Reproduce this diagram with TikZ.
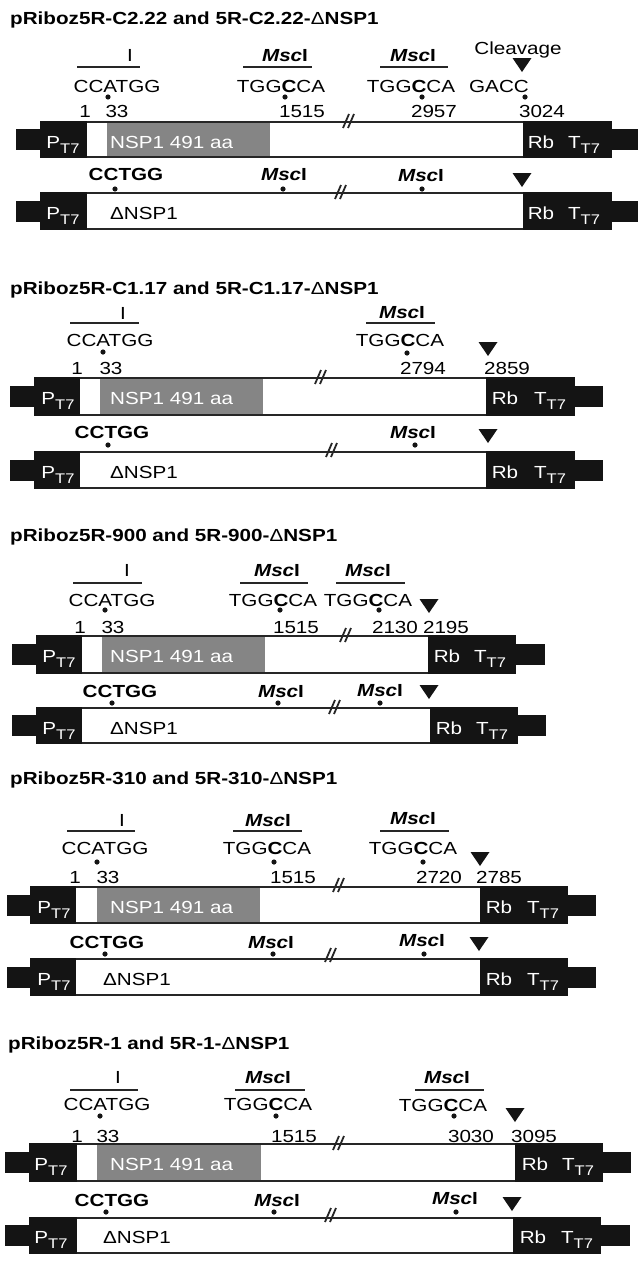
\documentclass[tikz,border=0pt]{standalone}
\usepackage{fontspec}
\setmainfont{Liberation Sans}[FakeStretch=1.18]
\definecolor{lin}{HTML}{262626}
\definecolor{gbox}{HTML}{858585}
\definecolor{blk}{HTML}{141414}
\newcommand\sub[1]{\raisebox{-0.32em}{\fontsize{14}{14}\selectfont #1}}
\newcommand\msc{\textbf{\textit{Msc}I}}
\newcommand\dl{{\mdseries Δ}}
\newcommand\cbox[8]{%
 \fill[blk] (#3,{(#1+#2)/2-10.5}) rectangle (#4,{(#1+#2)/2+10.5});
 \fill[blk] (#4,#1-1.3) rectangle (#5,#2+1.3);
 \fill[blk] (#6,#1-1.3) rectangle (#7,#2+1.3);
 \fill[blk] (#7,{(#1+#2)/2-10.5}) rectangle (#8,{(#1+#2)/2+10.5});
 \draw[bline] (#5,#1) -- (#6,#1);
 \draw[bline] (#5,#2) -- (#6,#2);}
\newcommand\tri[3]{\fill[blk] (#1-9.5,#2) -- (#1+9.5,#2) -- (#1,#3) -- cycle;}
\newcommand\brk[2]{\draw[brkl] (#1-5,#2+7) -- (#1+1,#2-7); \draw[brkl] (#1,#2+7) -- (#1+6,#2-7);}
\newcommand\sdot{\fill[blk]}
\tikzset{
 txt/.style={inner sep=0pt, font=\fontsize{17.5}{18}\selectfont, text height=12.5pt, text depth=0pt},
 ttl/.style={inner sep=0pt, anchor=west, font=\fontsize{17.5}{18}\selectfont\bfseries, text height=12.5pt, text depth=0pt},
 btxt/.style={txt, font=\fontsize{17.5}{18}\selectfont\bfseries},
 wtxt/.style={txt, text=white},
 ovl/.style={line width=2.6pt, draw=lin},
 bline/.style={line width=2.6pt, draw=lin},
 brkl/.style={line width=1.8pt, draw=lin},
}
\begin{document}
\begin{tikzpicture}[x=1pt,y=-1pt]
\useasboundingbox (0,0) rectangle (638,1282);
% ================= Panel 1
\node[ttl] (t1) at (10,18) {pRiboz5R-C2.22 and 5R-C2.22-\dl NSP1};
\node[txt] (a1I) at (130,55) {I}; \draw[ovl] (77,67) -- (140,67);
\node[txt] (a1s1) at (117,86) {CCATGG}; \sdot (108,97) circle (2.6);
\node[txt] (a1n1) at (85,111) {1}; \node[txt] (a1n33) at (117,111) {33};
\node[txt] (a1m1) at (285,55) {\msc}; \draw[ovl] (243,67) -- (312,67);
\node[txt] (a1s2) at (281,86) {TGG\textbf{C}CA}; \sdot (285,97) circle (2.6);
\node[txt] (a1n2) at (302,111) {1515};
\node[txt] (a1m2) at (413,55) {\msc}; \draw[ovl] (380,67) -- (448,67);
\node[txt] (a1s3) at (411,86) {TGG\textbf{C}CA}; \sdot (422,97) circle (2.6);
\node[txt] (a1n3) at (434,111) {2957};
\node[txt] (a1g) at (499,86) {GACC}; \sdot (525,97) circle (2.6);
\node[txt] (a1n4) at (542,111) {3024};
\node[txt] (a1cl) at (518,48) {Cleavage};
\tri{522}{58}{72}
\cbox{122}{157}{16}{40}{87}{523}{612}{638}
\fill[gbox] (107,123.3) rectangle (270,155.7);
\node[wtxt] (a1p) at (63,142) {P\sub{T7}};
\node[wtxt,anchor=west] (a1nsp) at (110,142) {NSP1 491 aa};
\node[wtxt] (a1rb) at (541,142) {Rb};
\node[wtxt] (a1tt) at (584,142) {T\sub{T7}};
\brk{348}{121}
\node[btxt] (b1c) at (126,174) {CCTGG}; \sdot (115,189) circle (2.6);
\node[txt] (b1m1) at (284,174) {\msc}; \sdot (283,189) circle (2.6);
\node[txt] (b1m2) at (421,175) {\msc}; \sdot (422,189) circle (2.6);
\tri{522}{173}{187}
\cbox{193}{229}{16}{40}{87}{523}{612}{638}
\node[wtxt] (b1p) at (63,213) {P\sub{T7}};
\node[txt,anchor=west] (b1d) at (110,213) {ΔNSP1};
\node[wtxt] (b1rb) at (541,213) {Rb};
\node[wtxt] (b1tt) at (584,213) {T\sub{T7}};
\brk{340}{192}
% ================= Panel 2
\node[ttl] (t2) at (10,288) {pRiboz5R-C1.17 and 5R-C1.17-\dl NSP1};
\node[txt] (a2I) at (123,313) {I}; \draw[ovl] (70,323) -- (139,323);
\node[txt] (a2s1) at (110,340) {CCATGG}; \sdot (103,352) circle (2.6);
\node[txt] (a2n1) at (77,368) {1}; \node[txt] (a2n33) at (111,368) {33};
\node[txt] (a2m1) at (402,312) {\msc}; \draw[ovl] (366,323) -- (435,323);
\node[txt] (a2s2) at (400,340) {TGG\textbf{C}CA}; \sdot (407,353) circle (2.6);
\node[txt] (a2n2) at (423,368) {2794};
\tri{488}{342}{356}
\node[txt] (a2n3) at (507,368) {2859};
\cbox{378}{415}{10}{34}{80}{486}{575}{603}
\fill[gbox] (100,379.3) rectangle (263,413.7);
\node[wtxt] (a2p) at (58,398) {P\sub{T7}};
\node[wtxt,anchor=west] (a2nsp) at (110,398) {NSP1 491 aa};
\node[wtxt] (a2rb) at (505,398) {Rb};
\node[wtxt] (a2tt) at (550,398) {T\sub{T7}};
\brk{320}{377}
\node[btxt] (b2c) at (112,432) {CCTGG}; \sdot (108,445) circle (2.6);
\node[txt] (b2m1) at (413,432) {\msc}; \sdot (415,445) circle (2.6);
\tri{488}{429}{443}
\cbox{452}{488}{10}{34}{80}{486}{575}{603}
\node[wtxt] (b2p) at (58,472) {P\sub{T7}};
\node[txt,anchor=west] (b2d) at (110,472) {ΔNSP1};
\node[wtxt] (b2rb) at (505,472) {Rb};
\node[wtxt] (b2tt) at (550,472) {T\sub{T7}};
\brk{331}{450}
% ================= Panel 3
\node[ttl] (t3) at (10,535) {pRiboz5R-900 and 5R-900-\dl NSP1};
\node[txt] (a3I) at (127,570) {I}; \draw[ovl] (73,583) -- (142,583);
\node[txt] (a3s1) at (112,600) {CCATGG}; \sdot (105,610) circle (2.6);
\node[txt] (a3n1) at (80,627) {1}; \node[txt] (a3n33) at (113,627) {33};
\node[txt] (a3m1) at (277,570) {\msc}; \draw[ovl] (240,583) -- (308,583);
\node[txt] (a3s2) at (273,600) {TGG\textbf{C}CA}; \sdot (280,610) circle (2.6);
\node[txt] (a3n2) at (296,627) {1515};
\node[txt] (a3m2) at (368,570) {\msc}; \draw[ovl] (336,583) -- (405,583);
\node[txt] (a3s3) at (368,600) {TGG\textbf{C}CA}; \sdot (379,610) circle (2.6);
\node[txt] (a3n3) at (395,627) {2130};
\tri{429}{599}{613}
\node[txt] (a3n4) at (446,627) {2195};
\cbox{636}{673}{12}{36}{82}{428}{516}{545}
\fill[gbox] (102,637.3) rectangle (265,671.7);
\node[wtxt] (a3p) at (59,656) {P\sub{T7}};
\node[wtxt,anchor=west] (a3nsp) at (110,656) {NSP1 491 aa};
\node[wtxt] (a3rb) at (447,656) {Rb};
\node[wtxt] (a3tt) at (490,656) {T\sub{T7}};
\brk{345}{635}
\node[btxt] (b3c) at (120,691) {CCTGG}; \sdot (112,703) circle (2.6);
\node[txt] (b3m1) at (281,691) {\msc}; \sdot (278,703) circle (2.6);
\node[txt] (b3m2) at (380,690) {\msc}; \sdot (380,703) circle (2.6);
\tri{429}{685}{699}
\cbox{708}{743}{12}{36}{82}{430}{518}{546}
\node[wtxt] (b3p) at (59,728) {P\sub{T7}};
\node[txt,anchor=west] (b3d) at (110,728) {ΔNSP1};
\node[wtxt] (b3rb) at (449,728) {Rb};
\node[wtxt] (b3tt) at (492,728) {T\sub{T7}};
\brk{334}{707}
% ================= Panel 4
\node[ttl] (t4) at (10,778) {pRiboz5R-310 and 5R-310-\dl NSP1};
\node[txt] (a4I) at (122,820) {I}; \draw[ovl] (67,831) -- (135,831);
\node[txt] (a4s1) at (105,848) {CCATGG}; \sdot (97,862) circle (2.6);
\node[txt] (a4n1) at (75,877) {1}; \node[txt] (a4n33) at (108,877) {33};
\node[txt] (a4m1) at (268,820) {\msc}; \draw[ovl] (233,831) -- (302,831);
\node[txt] (a4s2) at (267,848) {TGG\textbf{C}CA}; \sdot (274,862) circle (2.6);
\node[txt] (a4n2) at (293,877) {1515};
\node[txt] (a4m2) at (413,818) {\msc}; \draw[ovl] (380,831) -- (449,831);
\node[txt] (a4s3) at (413,848) {TGG\textbf{C}CA}; \sdot (423,862) circle (2.6);
\node[txt] (a4n3) at (439,877) {2720};
\tri{480}{852}{866}
\node[txt] (a4n4) at (499,877) {2785};
\cbox{887}{923}{7}{30}{76}{480}{568}{596}
\fill[gbox] (97,888.3) rectangle (260,921.7);
\node[wtxt] (a4p) at (54,907) {P\sub{T7}};
\node[wtxt,anchor=west] (a4nsp) at (110,907) {NSP1 491 aa};
\node[wtxt] (a4rb) at (499,907) {Rb};
\node[wtxt] (a4tt) at (543,907) {T\sub{T7}};
\brk{338}{885}
\node[btxt] (b4c) at (107,942) {CCTGG}; \sdot (105,954) circle (2.6);
\node[txt] (b4m1) at (271,942) {\msc}; \sdot (273,954) circle (2.6);
\node[txt] (b4m2) at (422,940) {\msc}; \sdot (424,954) circle (2.6);
\tri{479}{937}{951}
\cbox{959}{995}{7}{30}{76}{480}{568}{596}
\node[wtxt] (b4p) at (54,979) {P\sub{T7}};
\node[txt,anchor=west] (b4d) at (103,979) {ΔNSP1};
\node[wtxt] (b4rb) at (499,979) {Rb};
\node[wtxt] (b4tt) at (543,979) {T\sub{T7}};
\brk{330}{955}
% ================= Panel 5
\node[ttl] (t5) at (8,1043) {pRiboz5R-1 and 5R-1-\dl NSP1};
\node[txt] (a5I) at (118,1077) {I}; \draw[ovl] (70,1090) -- (138,1090);
\node[txt] (a5s1) at (107,1104) {CCATGG}; \sdot (100,1116) circle (2.6);
\node[txt] (a5n1) at (77,1136) {1}; \node[txt] (a5n33) at (108,1136) {33};
\node[txt] (a5m1) at (268,1077) {\msc}; \draw[ovl] (235,1090) -- (305,1090);
\node[txt] (a5s2) at (268,1104) {TGG\textbf{C}CA}; \sdot (276,1116) circle (2.6);
\node[txt] (a5n2) at (294,1136) {1515};
\node[txt] (a5m2) at (447,1077) {\msc}; \draw[ovl] (415,1090) -- (484,1090);
\node[txt] (a5s3) at (443,1105) {TGG\textbf{C}CA}; \sdot (454,1116) circle (2.6);
\node[txt] (a5n3) at (471,1136) {3030};
\tri{515}{1108}{1122}
\node[txt] (a5n4) at (534,1136) {3095};
\cbox{1144}{1181}{5}{29}{77}{515}{603}{631}
\fill[gbox] (97,1145.3) rectangle (261,1179.7);
\node[wtxt] (a5p) at (51,1164) {P\sub{T7}};
\node[wtxt,anchor=west] (a5nsp) at (110,1164) {NSP1 491 aa};
\node[wtxt] (a5rb) at (535,1164) {Rb};
\node[wtxt] (a5tt) at (578,1164) {T\sub{T7}};
\brk{338}{1143}
\node[btxt] (b5c) at (112,1200) {CCTGG}; \sdot (106,1212) circle (2.6);
\node[txt] (b5m1) at (277,1200) {\msc}; \sdot (274,1212) circle (2.6);
\node[txt] (b5m2) at (455,1198) {\msc}; \sdot (456,1212) circle (2.6);
\tri{512}{1197}{1211}
\cbox{1218}{1253}{5}{29}{77}{513}{601}{630}
\node[wtxt] (b5p) at (51,1237) {P\sub{T7}};
\node[txt,anchor=west] (b5d) at (103,1237) {ΔNSP1};
\node[wtxt] (b5rb) at (533,1237) {Rb};
\node[wtxt] (b5tt) at (577,1237) {T\sub{T7}};
\brk{330}{1215}
\end{tikzpicture}
\end{document}
